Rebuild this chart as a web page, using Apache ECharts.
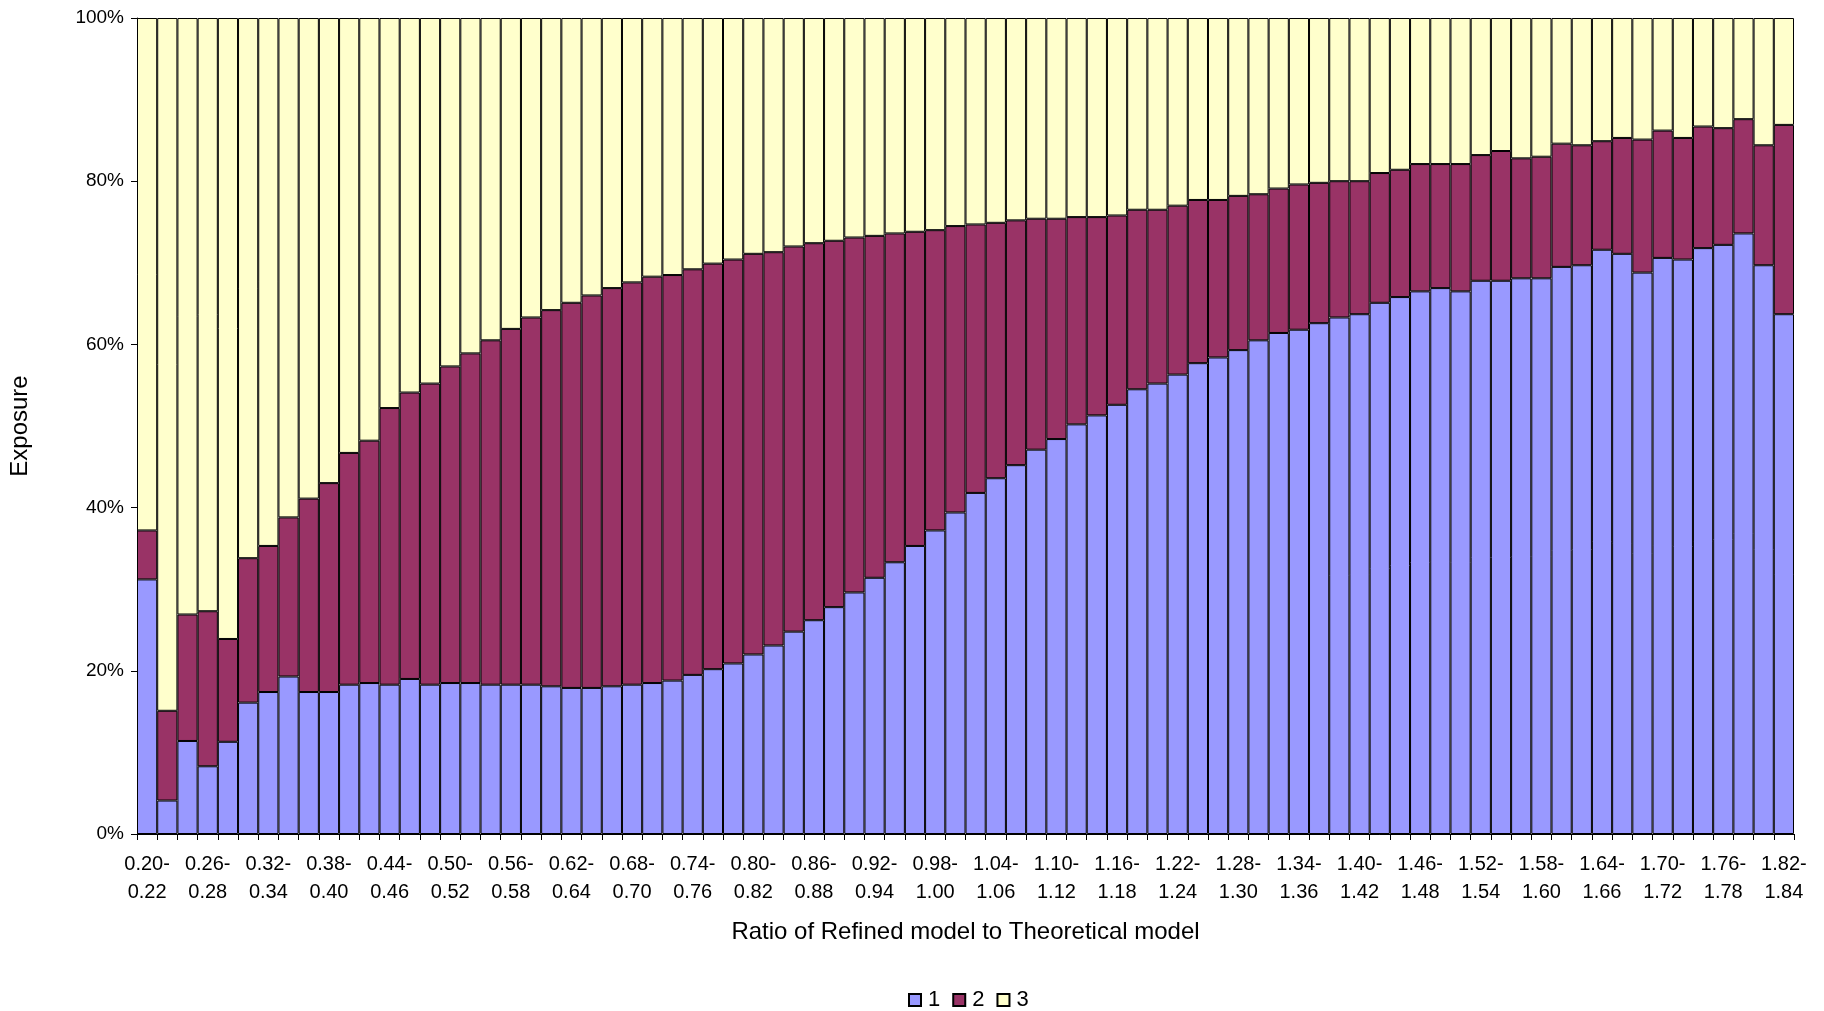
<!DOCTYPE html>
<html>
<head>
<meta charset="utf-8">
<script src="https://cdn.jsdelivr.net/npm/echarts@6/dist/echarts.min.js"></script>
<style>
html,body{margin:0;padding:0;background:#fff;}
#chart{width:1824px;height:1011px;}
</style>
</head>
<body>
<div id="chart"></div>
<script>
const categories = [
"0.20-0.22","0.22-0.24","0.24-0.26","0.26-0.28","0.28-0.30","0.30-0.32","0.32-0.34","0.34-0.36","0.36-0.38","0.38-0.40",
"0.40-0.42","0.42-0.44","0.44-0.46","0.46-0.48","0.48-0.50","0.50-0.52","0.52-0.54","0.54-0.56","0.56-0.58","0.58-0.60",
"0.60-0.62","0.62-0.64","0.64-0.66","0.66-0.68","0.68-0.70","0.70-0.72","0.72-0.74","0.74-0.76","0.76-0.78","0.78-0.80",
"0.80-0.82","0.82-0.84","0.84-0.86","0.86-0.88","0.88-0.90","0.90-0.92","0.92-0.94","0.94-0.96","0.96-0.98","0.98-1.00",
"1.00-1.02","1.02-1.04","1.04-1.06","1.06-1.08","1.08-1.10","1.10-1.12","1.12-1.14","1.14-1.16","1.16-1.18","1.18-1.20",
"1.20-1.22","1.22-1.24","1.24-1.26","1.26-1.28","1.28-1.30","1.30-1.32","1.32-1.34","1.34-1.36","1.36-1.38","1.38-1.40",
"1.40-1.42","1.42-1.44","1.44-1.46","1.46-1.48","1.48-1.50","1.50-1.52","1.52-1.54","1.54-1.56","1.56-1.58","1.58-1.60",
"1.60-1.62","1.62-1.64","1.64-1.66","1.66-1.68","1.68-1.70","1.70-1.72","1.72-1.74","1.74-1.76","1.76-1.78","1.78-1.80",
"1.80-1.82","1.82-1.84"
];

// Share of exposure (%) in each group
const series1 = [
31.2,4.1,11.4,8.3,11.3,16.1,17.4,19.3,17.4,17.4,
18.3,18.5,18.3,19.0,18.3,18.5,18.5,18.3,18.3,18.3,
18.1,17.9,17.9,18.1,18.3,18.5,18.8,19.5,20.2,20.9,
22.0,23.1,24.8,26.2,27.8,29.6,31.4,33.3,35.3,37.2,
39.4,41.8,43.6,45.2,47.1,48.4,50.2,51.3,52.6,54.5,
55.2,56.3,57.7,58.4,59.3,60.5,61.4,61.8,62.6,63.3,
63.7,65.1,65.8,66.5,66.9,66.5,67.8,67.8,68.1,68.1,
69.5,69.7,71.6,71.1,68.8,70.6,70.4,71.8,72.2,73.6,
69.7,63.7
];
const series2 = [
6.0,11.0,15.5,19.0,12.6,17.7,17.9,19.5,23.7,25.6,
28.4,29.7,33.9,35.1,36.9,38.8,40.4,42.2,43.6,45.0,
46.1,47.2,48.1,48.8,49.3,49.8,49.7,49.7,49.7,49.5,
49.1,48.2,47.2,46.2,44.9,43.5,41.9,40.3,38.5,36.8,
35.1,32.9,31.3,30.0,28.3,27.0,25.4,24.3,23.2,22.0,
21.3,20.7,20.0,19.3,18.9,17.9,17.7,17.8,17.2,16.7,
16.3,15.9,15.6,15.6,15.2,15.6,15.4,15.9,14.7,14.9,
15.1,14.7,13.3,14.2,16.3,15.6,14.9,14.9,14.3,14.0,
14.7,23.2
];
const series3 = [
62.8,84.9,73.1,72.7,76.1,66.2,64.7,61.2,58.9,57.0,
53.3,51.8,47.8,45.9,44.8,42.7,41.1,39.5,38.1,36.7,
35.8,34.9,34.0,33.1,32.4,31.7,31.5,30.8,30.1,29.6,
28.9,28.7,28.0,27.6,27.3,26.9,26.7,26.4,26.2,26.0,
25.5,25.3,25.1,24.8,24.6,24.6,24.4,24.4,24.2,23.5,
23.5,23.0,22.3,22.3,21.8,21.6,20.9,20.4,20.2,20.0,
20.0,19.0,18.6,17.9,17.9,17.9,16.8,16.3,17.2,17.0,
15.4,15.6,15.1,14.7,14.9,13.8,14.7,13.3,13.5,12.4,
15.6,13.1
];
const seriesNames = ["1","2","3"];
const yTicks = [0,20,40,60,80,100];

const FONT = "'Liberation Sans', Arial, sans-serif";
const colors = ['#9999FF','#993366','#FFFFCC'];
const data = [series1, series2, series3];

const chart = echarts.init(document.getElementById('chart'), null, {renderer:'canvas'});
chart.setOption({
  animation:false,
  textStyle:{fontFamily:FONT},
  grid:{left:137, right:30, top:18, bottom:177, containLabel:false},
  legend:{
    top:984, left:903,
    data:seriesNames,
    icon:'rect', itemWidth:12, itemHeight:12, itemGap:12,
    textStyle:{fontFamily:FONT, fontSize:22, color:'#000', padding:[0,0,0,2]},
  },
  xAxis:{
    type:'category', data:categories, boundaryGap:true,
    name:'Ratio of Refined model to Theoretical model', nameLocation:'middle', nameGap:86,
    nameTextStyle:{fontFamily:FONT, fontSize:24, color:'#000'},
    axisLine:{show:true, lineStyle:{color:'#000', width:1}},
    axisTick:{show:true, interval:0, length:6, lineStyle:{color:'#000'}},
    axisLabel:{
      interval:2, color:'#000', fontFamily:FONT, fontSize:20, lineHeight:28, margin:16,
      formatter:function(v){ const p=v.split('-'); return p[0]+'-\n'+p[1]; }
    },
    splitLine:{show:false}
  },
  yAxis:{
    type:'value', min:yTicks[0], max:yTicks[yTicks.length-1], interval:20,
    name:'Exposure', nameLocation:'middle', nameGap:105, nameRotate:90,
    nameTextStyle:{fontFamily:FONT, fontSize:24, color:'#000'},
    axisLine:{show:true, lineStyle:{color:'#000', width:1}},
    axisTick:{show:true, length:6, lineStyle:{color:'#000'}},
    axisLabel:{color:'#000', fontFamily:FONT, fontSize:19, margin:13, formatter:'{value}%'},
    splitLine:{show:false}
  },
  series: seriesNames.map((n,i)=>({
    name:n, type:'bar', stack:'total', data:data[i],
    barCategoryGap:'0%', barGap:'0%',
    itemStyle:{color:colors[i], borderColor:'#000', borderWidth:1}
  }))
});
</script>
</body>
</html>
